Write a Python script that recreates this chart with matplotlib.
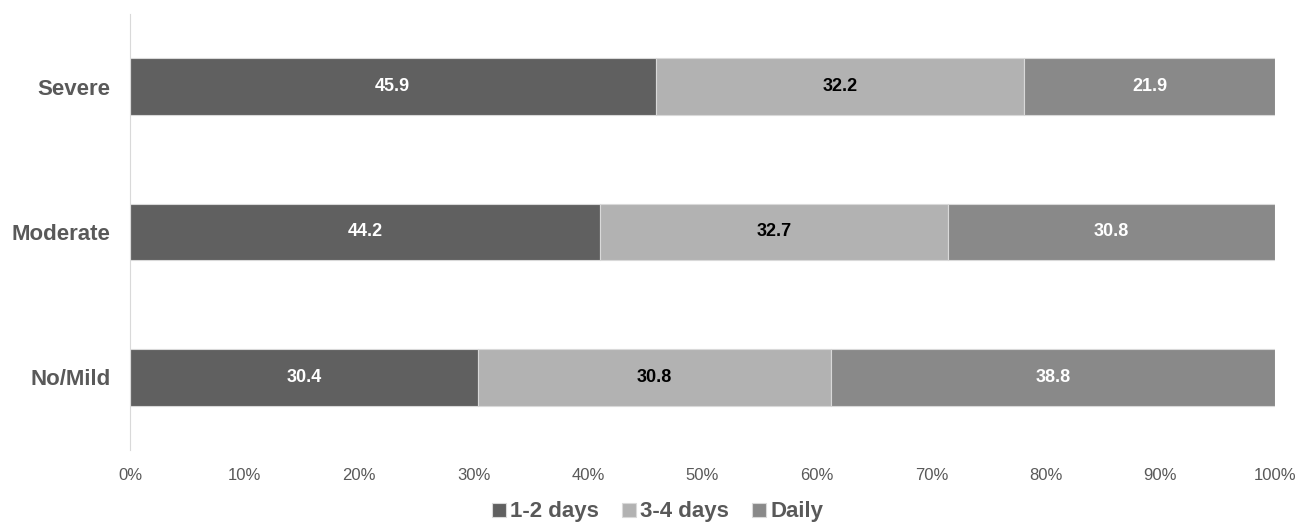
import numpy as np
import matplotlib.pyplot as plt
from matplotlib.ticker import PercentFormatter

plt.rcParams['font.family'] = ['Liberation Sans', 'DejaVu Sans']

# Chart data
categories = ['No/Mild', 'Moderate', 'Severe']
series_names = ['1-2 days', '3-4 days', 'Daily']
one_two_days = [30.4, 44.2, 45.9]
three_four_days = [30.8, 32.7, 32.2]
daily = [38.8, 30.8, 21.9]

colors = ['#606060', '#b2b2b2', '#898989']
label_colors = ['white', 'black', 'white']
text_grey = '#595959'

values = np.array([one_two_days, three_four_days, daily])
shares = values / values.sum(axis=0)  # 100% stacked

fig = plt.figure(figsize=(12.99, 5.23), dpi=100)
ax = fig.add_axes([130 / 1299, 73 / 523, 1145 / 1299, 436 / 523])

y = np.arange(len(categories))
left = np.zeros(len(categories))
for i, name in enumerate(series_names):
    bars = ax.barh(y, shares[i], left=left, height=0.39, color=colors[i],
                   edgecolor='#d9d9d9', linewidth=0.8, label=name)
    for b, v in zip(bars, values[i]):
        ax.text(b.get_x() + b.get_width() / 2, b.get_y() + b.get_height() / 2,
                f'{v:.1f}', ha='center', va='center', fontsize=13,
                fontweight='bold', color=label_colors[i])
    left += shares[i]

ax.set_xlim(0, 1)
ax.set_ylim(-0.5, 2.5)
ax.set_yticks(y)
ax.set_yticklabels(categories, fontsize=16, fontweight='bold', color=text_grey)
ax.set_xticks(np.linspace(0, 1, 11))
ax.xaxis.set_major_formatter(PercentFormatter(1.0, decimals=0))
ax.tick_params(axis='x', length=0, pad=13, labelsize=12, labelcolor=text_grey)
ax.tick_params(axis='y', length=0, pad=14)

for s in ['top', 'right', 'bottom']:
    ax.spines[s].set_visible(False)
ax.spines['left'].set_color('#d9d9d9')

ax.legend(loc='center', bbox_to_anchor=(0.461, -0.142), ncol=3, frameon=False,
          prop={'size': 16, 'weight': 'bold'}, labelcolor=text_grey,
          handlelength=0.6, handleheight=0.6, handletextpad=0.2, columnspacing=1.05,
          borderpad=0)

plt.savefig('out.png', dpi=100)
